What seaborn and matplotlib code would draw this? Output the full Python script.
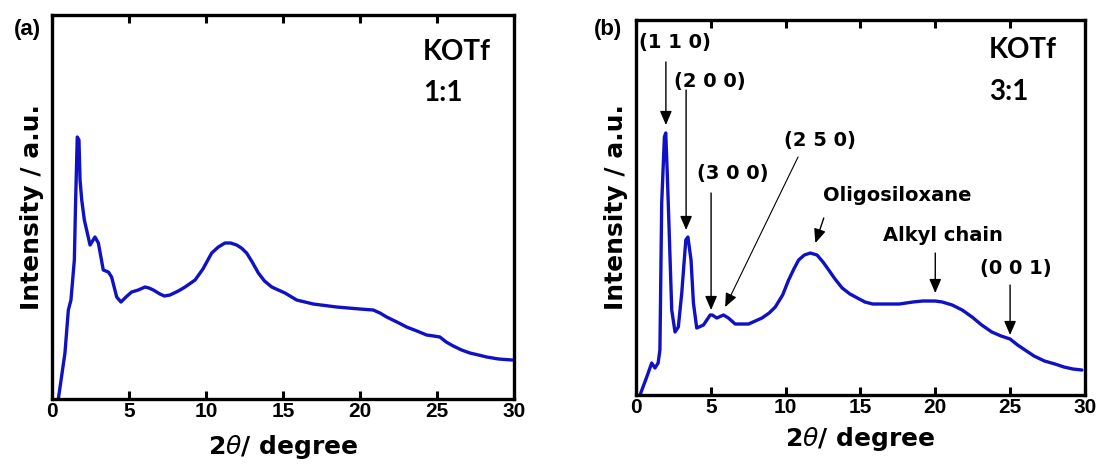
import matplotlib
matplotlib.use("Agg")
import matplotlib.pyplot as plt
import seaborn as sns
import pandas as pd

# XRD pattern, KOTf 1:1 (2-theta in degrees, intensity in a.u.)
two_theta_11 = [0.41, 0.84, 1.06, 1.23, 1.45, 1.53, 1.64, 1.75, 1.82, 1.93, 2.10, 2.47,
                2.79, 3.01, 3.33, 3.66, 3.87, 4.20, 4.48, 4.80, 5.17, 5.60, 6.04, 6.30,
                6.58, 7.01, 7.30, 7.66, 8.20, 8.64, 9.29, 9.80, 10.37, 10.80, 11.23,
                11.60, 11.99, 12.30, 12.64, 13.00, 13.40, 13.80, 14.27, 15.13, 15.89,
                16.97, 18.49, 20.00, 20.86, 21.30, 21.73, 22.40, 23.03, 23.70, 24.33,
                24.80, 25.19, 25.60, 26.06, 26.60, 27.14, 27.70, 28.23, 29.00, 29.90]
intensity_11 = [0, 46, 89, 99, 139, 196, 262, 259, 219, 199, 179, 154,
                162, 156, 129, 127, 122, 102, 97, 102, 107, 109, 112, 111,
                109, 105, 103, 104, 108, 112, 119, 130, 146, 152, 156,
                156, 154, 151, 146, 137, 126, 118, 112, 106, 99,
                95, 92, 90, 89, 86, 82, 77, 72, 68, 64,
                63, 62, 57, 53, 49, 46, 44, 42, 40, 39]

# XRD pattern, KOTf 3:1
two_theta_31 = [0.27, 0.72, 1.05, 1.27, 1.48, 1.60, 1.72, 1.90, 1.99, 2.10, 2.21, 2.39,
                2.61, 2.83, 3.06, 3.33, 3.47, 3.68, 3.84, 4.06, 4.51, 4.96, 5.10, 5.40,
                5.85, 6.18, 6.63, 7.52, 8.42, 8.90, 9.31, 9.80, 10.20, 10.55, 10.87,
                11.25, 11.65, 12.10, 12.50, 12.88, 13.30, 13.78, 14.30, 14.80, 15.30,
                15.83, 17.60, 18.50, 19.15, 20.00, 20.47, 21.13, 21.80, 22.46, 23.10,
                23.78, 24.40, 25.00, 25.50, 26.00, 26.60, 27.30, 28.00, 28.60, 29.20,
                29.80]
intensity_31 = [0, 18, 32, 27, 32, 45, 192, 258, 262, 218, 168, 85,
                63, 68, 102, 155, 158, 135, 92, 67, 70, 80, 80, 77,
                80, 77, 71, 71, 77, 82, 88, 100, 115, 126, 135,
                140, 142, 140, 133, 125, 116, 107, 101, 97, 93,
                91, 91, 93, 94, 94, 93, 90, 85, 78, 70,
                63, 59, 56, 50, 45, 39, 34, 31, 28, 26,
                25]

x_ticks = [0, 5, 10, 15, 20, 25, 30]
panel_tags = ["(a)", "(b)"]
salt_labels = [("KOTf", "1:1"), ("KOTf", "3:1")]
peak_labels = ["(1 1 0)", "(2 0 0)", "(3 0 0)", "(2 5 0)",
               "Oligosiloxane", "Alkyl chain", "(0 0 1)"]

LINE_BLUE = "#1010c4"

sns.set_style("white")
plt.rcParams["font.family"] = ["DejaVu Sans"]
plt.rcParams["mathtext.fontset"] = "dejavusans"
plt.rcParams["text.color"] = "black"
plt.rcParams["axes.labelcolor"] = "black"
plt.rcParams["xtick.color"] = "black"
plt.rcParams["xtick.labelcolor"] = "black"

fig = plt.figure(figsize=(11.02, 4.65), dpi=100)
ax_a = fig.add_axes([0.0472, 0.1419, 0.4192, 0.8258])
ax_b = fig.add_axes([0.5771, 0.1505, 0.4074, 0.8065])

df_a = pd.DataFrame({"two_theta": two_theta_11, "intensity": intensity_11})
df_b = pd.DataFrame({"two_theta": two_theta_31, "intensity": intensity_31})

for ax, df, ytop, xpad in [(ax_a, df_a, 384, 9), (ax_b, df_b, 375, 6)]:
    sns.lineplot(data=df, x="two_theta", y="intensity", ax=ax, color=LINE_BLUE,
                 linewidth=2.4, sort=False, estimator=None, legend=False)
    ax.set_xlim(0, 30)
    ax.set_ylim(0, ytop)
    ax.set_xticks(x_ticks)
    ax.set_xticklabels([str(t) for t in x_ticks], fontfamily="Liberation Sans",
                       fontweight="bold", fontsize=15, color="black")
    ax.set_yticks([])
    ax.tick_params(axis="x", direction="in", top=True, bottom=True, length=6,
                   width=2.2, color="black", pad=2)
    for sp in ax.spines.values():
        sp.set_visible(True)
        sp.set_linewidth(2.4)
        sp.set_color("black")
    ax.set_xlabel(r"2$\theta$/ degree", fontsize=18, fontweight="bold",
                  labelpad=xpad, color="black")
    ax.set_ylabel("Intensity / a.u.", fontsize=18, fontweight="bold", labelpad=6,
                  color="black")

# panel tags and composition labels
fig.text(27 / 1102, 1 - 29 / 465, panel_tags[0], fontfamily="Liberation Sans",
         fontweight="bold", fontsize=16, ha="center", va="center")
fig.text(608 / 1102, 1 - 30 / 465, panel_tags[1], fontfamily="Liberation Sans",
         fontweight="bold", fontsize=16, ha="center", va="center")

for ax, (salt, ratio), (tx, ty1, ty2) in [(ax_a, salt_labels[0], (24.1, 347, 306)),
                                          (ax_b, salt_labels[1], (23.6, 345, 303))]:
    ax.text(tx, ty1, salt, fontfamily="Lato", fontweight="bold", fontsize=20,
            ha="left", va="center")
    ax.text(tx, ty2, ratio, fontfamily="Lato", fontweight="bold", fontsize=20,
            ha="left", va="center")

# peak assignments on the 3:1 pattern: text centre, arrow tail, arrow tip, line width
peak_layout = [
    ((2.61, 352), (2.00, 333), (2.00, 270), 1.0),
    ((4.95, 313), (3.35, 305), (3.35, 165), 1.0),
    ((6.49, 222), (5.02, 202), (5.02, 85), 1.0),
    ((12.31, 255), (10.83, 238), (5.96, 88), 0.8),
    ((17.46, 200), (12.55, 177), (11.99, 152), 1.0),
    ((20.54, 160), (20.00, 142), (20.00, 102), 1.0),
    ((25.35, 127), (25.00, 110), (25.00, 60), 1.0),
]
for label, (txt, tail, tip, lw) in zip(peak_labels, peak_layout):
    ax_b.text(txt[0], txt[1], label, fontsize=14, fontweight="bold",
              ha="center", va="center")
    ax_b.annotate("", xy=tip, xytext=tail,
                  arrowprops=dict(arrowstyle="-|>,head_length=0.7,head_width=0.3",
                                  color="black", lw=lw, shrinkA=0, shrinkB=0,
                                  mutation_scale=12))

fig.savefig("out.png", dpi=100)
